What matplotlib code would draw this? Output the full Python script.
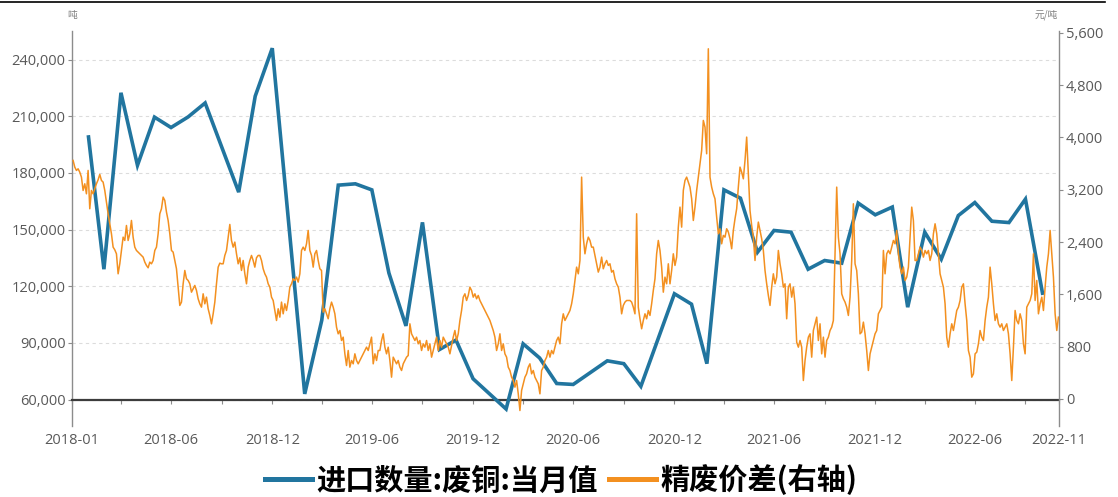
import matplotlib
matplotlib.use("Agg")
import matplotlib.pyplot as plt
from matplotlib.lines import Line2D
from matplotlib.ticker import FuncFormatter
import pandas as pd

# Monthly scrap-copper imports (tonnes), dated at month end
import_months = [
    "2018-01", "2018-02", "2018-03", "2018-04", "2018-05", "2018-06", "2018-07", "2018-08",
    "2018-10", "2018-11", "2018-12", "2019-02", "2019-03", "2019-04", "2019-05", "2019-06",
    "2019-07", "2019-08", "2019-09", "2019-10", "2019-11", "2019-12", "2020-02", "2020-03",
    "2020-04", "2020-05", "2020-06", "2020-08", "2020-09", "2020-10", "2020-12", "2021-01",
    "2021-02", "2021-03", "2021-04", "2021-05", "2021-06", "2021-07", "2021-08", "2021-09",
    "2021-10", "2021-11", "2021-12", "2022-01", "2022-02", "2022-03", "2022-04", "2022-05",
    "2022-06", "2022-07", "2022-08", "2022-09", "2022-10",
]
import_tons = [
    199000, 129000, 222400, 184000, 209500, 204000, 209600, 217000,
    169800, 220600, 246000, 63000, 102000, 173500, 174200, 171000,
    127000, 99000, 153800, 86500, 91500, 71000, 55000, 89500,
    82000, 68500, 68000, 80500, 79000, 67000, 116000, 110500,
    79000, 171000, 166600, 138000, 149500, 148600, 129000, 133600,
    132200, 164000, 157800, 161900, 108900, 148600, 134300, 157400,
    164300, 154400, 153700, 166100, 116300,
]

# Refined-scrap copper price spread (yuan/tonne), evenly spaced observations
spread_start = "2018-01-03"
spread_end = "2022-11-29"
spread_values = [
    3649, 3547, 3496, 3521, 3470, 3394, 3190, 3292, 3139, 3496,
    2910, 3190, 3139, 3216, 3292, 3353, 3435, 3343, 3318, 3190,
    3011, 2833, 2680, 2527, 2323, 2282, 2221, 1915, 2068, 2272,
    2476, 2425, 2654, 2425, 2527, 2731, 2476, 2323, 2272, 2247,
    2221, 2196, 2170, 2094, 2043, 2007, 2094, 2068, 2119, 2272,
    2323, 2527, 2833, 2910, 3088, 3037, 2859, 2731, 2527, 2272,
    2247, 2119, 1992, 1711, 1431, 1482, 1762, 1966, 1839, 1813,
    1762, 1634, 1686, 1737, 1660, 1533, 1456, 1405, 1609, 1456,
    1558, 1380, 1277, 1150, 1303, 1482, 1762, 2017, 2078, 2068,
    2068, 2196, 2272, 2476, 2670, 2425, 2323, 2400, 2221, 2068,
    2160, 1966, 2119, 1915, 1762, 2017, 2119, 2196, 2119, 2017,
    2160, 2196, 2196, 2119, 1992, 1915, 1864, 1762, 1711, 1558,
    1507, 1354, 1201, 1380, 1252, 1482, 1303, 1456, 1354, 1507,
    1711, 1762, 1839, 1813, 1864, 1788,
    1915, 2272, 2323, 2272, 2374, 2578, 2272, 2196, 2017, 2221,
    2272, 2119, 1992, 1966, 1329, 1380, 1303, 1227, 1380, 1482,
    1405, 1303, 1099, 997, 1048, 895, 946, 691, 512, 742,
    487, 589, 538, 691, 589, 538, 589, 640, 691, 742,
    793, 742, 844, 946, 538, 691, 589, 742, 742, 895,
    997, 793, 691, 793, 589, 334, 640, 589, 538, 589,
    487, 436, 538, 589, 640, 666, 1150, 997, 946, 895,
    946, 844, 895, 742, 844, 793, 895, 742, 844, 640,
    742, 844, 946, 742, 895, 793, 946, 895, 844, 793,
    691, 818, 946, 1048, 895, 997, 1201, 1354, 1558, 1609,
    1507, 1584, 1711, 1660, 1558, 1609, 1533, 1584, 1507, 1456,
    1405, 1354, 1303, 1252, 1201, 1125, 1048, 946, 742, 844,
    997, 742, 844, 691, 640, 487, 436, 334, 283, 181,
    283, 79, -176, 130, 232, 334, 385, 487, 538, 385,
    436, 334, 283, 232, 79, 436, 487, 589, 640, 742,
    640, 742, 691, 793, 895, 946, 844, 1150, 1303, 1201,
    1252, 1303, 1354, 1456, 1609, 1813, 2017, 1915, 2119, 3394,
    2476, 2221, 2374, 2476, 2425, 2323, 2323, 2196, 2068, 1941,
    2017, 2170, 1992, 2068, 2119, 2043, 2068, 1941, 1966, 1839,
    1762, 1711, 1558, 1303, 1431, 1482, 1507, 1507, 1507, 1482,
    1405, 1303, 2833, 1405, 1227, 1074, 1201, 1303, 1227, 1354,
    1278, 1456, 1660, 1839, 2221, 2425, 2272, 2017, 1634, 1864,
    1762, 2068, 1762, 1966, 2221, 2043, 2170, 2629, 2935, 2629,
    3190, 3343, 3394, 3318, 3241, 3062, 2731, 2935, 3190, 3394,
    3598, 3802, 4261, 4159, 3751, 5357, 3394, 3241, 3139, 3062,
    2782, 2527, 2604, 2374, 2502, 2476, 2604, 2553, 2451, 2298,
    2578, 2757, 2910, 3241, 3547, 3470, 3368, 3649, 4006, 3445,
    2884, 2654, 2476, 2119, 2476, 2706, 2578, 2451, 2272, 1966,
    1762, 1584, 1431, 1711, 1915, 1762, 1864, 2272, 2068, 1915,
    1711, 1762, 1227, 1711, 1762, 1558, 1711, 1456, 870, 793,
    895, 793, 283, 589, 793, 946, 997, 640, 1048, 1150,
    1252, 895, 1150, 691, 946, 640, 895, 946, 1048, 1099,
    1201, 2221, 3241, 2476, 2221, 1609, 1533, 1482, 1405, 1278,
    1558, 2119, 2986, 2068, 1966, 1609, 997, 1023, 1176, 997,
    742, 436, 691, 793, 895, 997, 1048, 1303, 1354, 1405,
    2272, 1915, 2221, 2272, 2221, 2323, 2425, 2374, 2578, 2221,
    2017, 1915, 2017, 1813, 1864, 2017, 2476, 2935, 2731, 2119,
    2119, 2221, 2323, 2272, 2170, 2272, 2221, 2272, 2119, 2221,
    2527, 2680, 2527, 2221, 1915, 1813, 1711, 1456, 946, 793,
    997, 1150, 1048, 1201, 1354, 1405, 1507, 1711, 1762, 1456,
    1201, 742, 640, 334, 385, 691, 717, 844, 1048, 946,
    895, 1201, 1405, 1558, 2017, 1762, 1456, 1201, 1303, 1150,
    1099, 1150, 1048, 1099, 1150, 997, 691, 283, 793, 1354,
    1201, 1150, 1303, 1201, 844, 691, 1405, 1456, 1507, 1609,
    2221, 1507, 1813, 1303, 1456, 1558, 1354, 1711, 2017, 2221,
    2578, 2221, 1864, 1303, 1048, 1252,
]

left_ticks = [60000, 90000, 120000, 150000, 180000, 210000, 240000]
right_ticks = [0, 800, 1600, 2400, 3200, 4000, 4800, 5600]

series_labels = ["进口数量:废铜:当月值", "精废价差(右轴)"]
left_unit = "吨"
right_unit = "元/吨"

BLUE = "#21759f"
ORANGE = "#f39020"
TICK_TXT = "#595959"
AXIS_GREY = "#8c8c8c"

import_dates = pd.to_datetime(import_months) + pd.offsets.MonthEnd(0)
spread_dates = pd.date_range(spread_start, spread_end, periods=len(spread_values))

W, H = 1118, 497
fig = plt.figure(figsize=(W / 100, H / 100), dpi=100)
x0, x1, y_top, y_bot = 72, 1059, 31, 426
ax = fig.add_axes([x0 / W, 1 - y_bot / H, (x1 - x0) / W, (y_bot - y_top) / H])
ax2 = ax.twinx()

ax.plot(import_dates, import_tons, color=BLUE, lw=2.6, solid_joinstyle="miter", zorder=3)
ax2.plot(spread_dates, spread_values, color=ORANGE, lw=1.1, zorder=3)

ax.set_xlim(pd.Timestamp("2018-01-01"), pd.Timestamp("2022-11-30"))
ax.set_ylim(46000, 255100)
ax2.set_ylim(-413, 5629)

# horizontal dashed grid from the left axis
ax.set_axisbelow(True)
ax.set_yticks(left_ticks)
ax.yaxis.grid(True, color="#dcdcdc", lw=0.8, ls=(0, (3, 3)))
ax.yaxis.set_major_formatter(FuncFormatter(lambda v, p: f"{v:,.0f}"))
ax2.set_yticks(right_ticks)
ax2.yaxis.set_major_formatter(FuncFormatter(lambda v, p: f"{v:,.0f}"))

# x ticks at quarter ends, labelled every half year plus both ends
quarter_ends = pd.date_range("2018-03-31", "2022-09-30", freq="QE")
tick_pos = [pd.Timestamp("2018-01-01")] + list(quarter_ends) + [pd.Timestamp("2022-11-30")]
tick_lab = []
for d in tick_pos:
    if d == tick_pos[0] or d == tick_pos[-1] or d.month in (6, 12):
        tick_lab.append(d.strftime("%Y-%m"))
    else:
        tick_lab.append("")
ax.set_xticks(tick_pos)
ax.set_xticklabels(tick_lab)

for s in ("top", "right"):
    ax.spines[s].set_visible(False)
for s in ("top", "left", "bottom"):
    ax2.spines[s].set_visible(False)
ax.spines["bottom"].set_position(("data", 60000))
ax.spines["bottom"].set_color("#3c3c3c")
ax.spines["bottom"].set_linewidth(1.6)
ax.spines["left"].set_color(AXIS_GREY)
ax.spines["left"].set_linewidth(1.0)
ax2.spines["right"].set_color(AXIS_GREY)
ax2.spines["right"].set_linewidth(1.0)

tick_font = "Open Sans"
ax.tick_params(axis="x", length=3, width=0.8, color=AXIS_GREY, pad=21,
               labelsize=10.5, labelcolor=TICK_TXT)
ax.tick_params(axis="y", length=3, width=0.8, color=AXIS_GREY, pad=1.5,
               labelsize=10.5, labelcolor=TICK_TXT)
ax2.tick_params(axis="y", length=3, width=0.8, color=AXIS_GREY, pad=2,
                labelsize=10.5, labelcolor=TICK_TXT)
for lab in ax.get_xticklabels() + ax.get_yticklabels() + ax2.get_yticklabels():
    lab.set_fontfamily(tick_font)

cjk = ["Noto Sans CJK SC", "DejaVu Sans"]
fig.text(x0 / W, 1 - 15 / H, left_unit, ha="center", va="center", fontsize=7,
         color="#7f7f7f", family=cjk)
fig.text(1046 / W, 1 - 15 / H, right_unit, ha="center", va="center", fontsize=7,
         color="#7f7f7f", family=cjk)

# thin rule along the top edge
fig.add_artist(Line2D([0.0, 1105 / W], [1 - 1.5 / H, 1 - 1.5 / H],
                      transform=fig.transFigure, color="#000000", lw=1.2))

handles = [Line2D([], [], color=BLUE, lw=3.6), Line2D([], [], color=ORANGE, lw=3.6)]
fig.legend(handles, series_labels, loc="center", bbox_to_anchor=(0.502, 1 - 480 / H),
           ncol=2, frameon=False, handlelength=1.6, handletextpad=0.15,
           columnspacing=0.4, prop={"family": cjk, "size": 21, "weight": "bold"})

fig.savefig("out.png", dpi=100)
